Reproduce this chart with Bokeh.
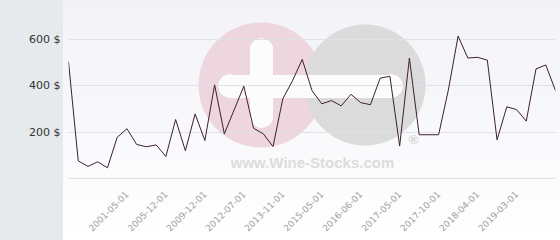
import math
from bokeh.plotting import figure
from bokeh.models import Range1d, FixedTicker, PrintfTickFormatter, Label
from bokeh.embed import file_html
from bokeh.resources import INLINE

# ---- data ----
prices = [505, 76, 52, 72, 46, 178, 215, 147, 137, 145,
          95, 255, 120, 279, 164, 405, 193, 296, 399, 217,
          193, 138, 344, 423, 515, 380, 323, 337, 314, 364,
          328, 319, 434, 442, 140, 521, 189, 189, 189, 383,
          616, 521, 524, 512, 167, 310, 298, 248, 474, 491, 380]
label_idx = [6, 10, 14, 18, 22, 26, 30, 34, 38, 42, 46]
label_dates = ["2001-05-01", "2005-12-01", "2009-12-01", "2012-07-01",
               "2013-11-01", "2015-05-01", "2016-06-01", "2017-05-01",
               "2017-10-01", "2018-04-01", "2019-03-01"]
y_ticks = [0, 200, 400, 600]

xs = list(range(len(prices)))

W, H = 560, 240
BL, BR, BT, BB = 68, 5, 0, 60
Y0, Y1 = -9, 770

WH = "#fcfcfd"
NONE = "rgba(0,0,0,0)"
bg = ", ".join([
    "linear-gradient(to right, #e6eaed 63px, %s 63px)" % NONE,
    # plus sign (rounded ends)
    "radial-gradient(circle at 261.5px 50px, %s 11.5px, %s 12px)" % (WH, NONE),
    "radial-gradient(circle at 261.5px 116px, %s 11.5px, %s 12px)" % (WH, NONE),
    "linear-gradient(%s,%s) 250px 50px / 23px 66px no-repeat" % (WH, WH),
    "radial-gradient(circle at 230px 86px, %s 11.5px, %s 12px)" % (WH, NONE),
    # minus sign / joined bar
    "radial-gradient(circle at 391px 86px, %s 11.5px, %s 12px)" % (WH, NONE),
    "linear-gradient(%s,%s) 230px 74.5px / 161px 23px no-repeat" % (WH, WH),
    "radial-gradient(circle at 365px 85px, #dbdbdb 60px, %s 61px)" % NONE,
    "radial-gradient(circle at 261px 85px, #edd6dd 62px, %s 63px)" % NONE,
    "linear-gradient(to bottom, #f2f2f8, #ffffff)",
])

p = figure(width=W, height=H, output_backend="svg", toolbar_location=None,
           x_range=Range1d(0, len(prices) - 1), y_range=Range1d(Y0, Y1),
           min_border_left=BL, min_border_right=BR, min_border_top=BT,
           min_border_bottom=BB, styles={"background": bg})
p.border_fill_alpha = 0
p.background_fill_alpha = 0
p.outline_line_color = None

# watermark text (decoration)
fw = W - BL - BR
fh = H - BT - BB
def px2x(px):
    return (px - BL) / fw * (len(prices) - 1)
def py2y(py):
    return Y1 - (py - BT) / fh * (Y1 - Y0)

p.add_layout(Label(x=px2x(312), y=py2y(162), text="www.Wine-Stocks.com",
                   text_align="center", text_baseline="middle",
                   text_font="Liberation Sans", text_font_style="bold",
                   text_font_size="15px", text_color="#dcdcdc", level="underlay"))
p.add_layout(Label(x=px2x(413), y=py2y(139), text="®",
                   text_align="center", text_baseline="middle",
                   text_font="Liberation Sans", text_font_style="bold",
                   text_font_size="13px", text_color="#d0d0d0", level="underlay"))

p.line(xs, prices, line_color="#3d1f2d", line_width=1)

p.xgrid.visible = False
p.ygrid.grid_line_color = "#e0e0e7"
p.ygrid.grid_line_width = 1

p.yaxis.ticker = FixedTicker(ticks=y_ticks)
p.yaxis.formatter = PrintfTickFormatter(format="%d $")
p.yaxis.major_label_overrides = {0: ""}
p.yaxis.axis_line_color = None
p.yaxis.major_tick_line_color = None
p.yaxis.minor_tick_line_color = None
p.yaxis.major_tick_out = 0
p.yaxis.major_tick_in = 0
p.yaxis.minor_tick_out = 0
p.yaxis.major_label_standoff = 8
p.yaxis.major_label_text_font = "DejaVu Sans"
p.yaxis.major_label_text_font_size = "11px"
p.yaxis.major_label_text_color = "#333333"

p.xaxis.ticker = FixedTicker(ticks=label_idx)
p.xaxis.major_label_overrides = {i: d for i, d in zip(label_idx, label_dates)}
p.xaxis.major_label_orientation = math.pi / 4
p.xaxis.axis_line_color = None
p.xaxis.major_tick_line_color = None
p.xaxis.minor_tick_line_color = None
p.xaxis.major_tick_out = 0
p.xaxis.major_tick_in = 0
p.xaxis.minor_tick_out = 0
p.xaxis.major_label_standoff = 12
p.xaxis.major_label_text_font = "DejaVu Sans"
p.xaxis.major_label_text_font_size = "9px"
p.xaxis.major_label_text_color = "#a0a0a0"

open("out.html", "w").write(file_html(p, INLINE))
